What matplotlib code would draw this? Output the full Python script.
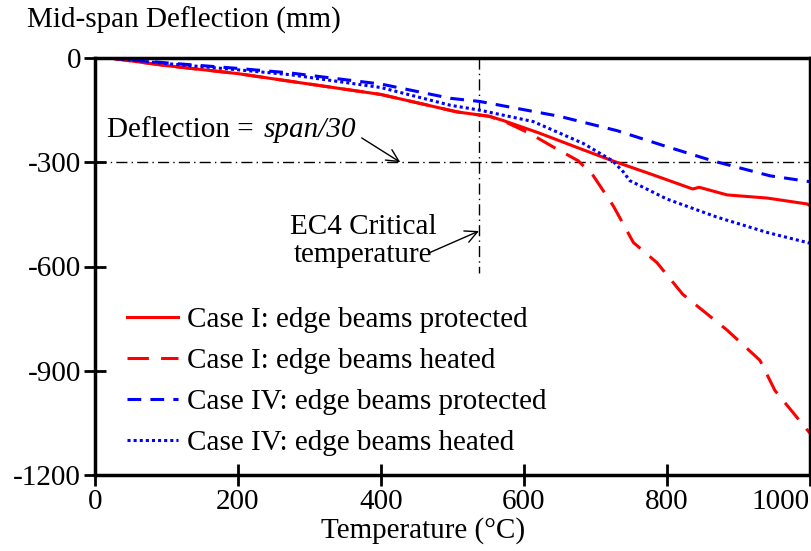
import matplotlib
matplotlib.use('Agg')
import matplotlib.pyplot as plt

plt.rcParams['font.family'] = ['Liberation Serif', 'DejaVu Serif']
plt.rcParams['axes.unicode_minus'] = False

# Case I, edge beams protected
t_c1p = [20, 100, 200, 273, 400, 506, 552, 571, 620, 680, 724, 776, 836, 845, 884, 940, 996, 1000]
d_c1p = [0, -22, -45, -67, -105, -155, -168, -180, -215, -262, -296, -333, -377, -372, -394, -403, -420, -425]

# Case I, edge beams heated
t_c1h = [20, 100, 200, 273, 400, 506, 552, 575, 608, 640, 676, 697, 725, 753, 786, 822, 884, 930, 951, 1000]
d_c1h = [0, -22, -45, -67, -105, -155, -168, -185, -217, -255, -296, -339, -426, -531, -589, -680, -783, -870, -957, -1080]

# Case IV, edge beams protected
t_c4p = [20, 100, 200, 273, 400, 497, 538, 650, 730, 795, 864, 944, 1000]
d_c4p = [0, -14, -30, -43, -75, -116, -125, -168, -209, -252, -296, -339, -356]

# Case IV, edge beams heated
t_c4h = [20, 100, 200, 273, 400, 497, 538, 613, 683, 724, 739, 748, 800, 870, 940, 1000]
d_c4h = [0, -16, -34, -48, -85, -136, -150, -183, -246, -296, -328, -353, -406, -458, -502, -533]

ec4_temp = 537
span30 = -300

fig = plt.figure(figsize=(8.11, 5.51), dpi=100)
ax = fig.add_axes([95 / 811, 76 / 551, 715 / 811, 417 / 551])

fs = 21
ax.axhline(span30, color='black', lw=1, ls=(0, (8, 3, 1, 3)))
ax.plot([ec4_temp, ec4_temp], [0, -620], color='black', lw=1, ls=(0, (8, 3, 1, 3)))

ax.plot(t_c1p, d_c1p, color='red', lw=2.2, label='Case I: edge beams protected')
ax.plot(t_c1h, d_c1h, color='red', lw=2.2, ls=(0, (7, 4)), label='Case I: edge beams heated')
ax.plot(t_c4p, d_c4p, color='blue', lw=2.2, ls=(0, (4.5, 3)), label='Case IV: edge beams protected')
ax.plot(t_c4h, d_c4h, color='blue', lw=2.2, ls=(0, (1, 1)), label='Case IV: edge beams heated')

ax.set_xlim(0, 1000)
ax.set_ylim(-1200, 0)
ax.set_xticks([0, 200, 400, 600, 800, 1000])
ax.set_yticks([0, -300, -600, -900, -1200])
ax.tick_params(direction='inout', length=16, width=2, labelsize=fs, pad=2)
ax.get_xticklabels()[-1].set_horizontalalignment('right')
for s in ax.spines.values():
    s.set_linewidth(2.5)

ax.set_xlabel('Temperature (°C)', fontsize=fs, labelpad=0)
ax.xaxis.set_label_coords((423 - 95) / 715, -0.1)
fig.text(27 / 811, 1 - 20 / 551, 'Mid-span Deflection (mm)', fontsize=fs, va='center', ha='left')

# span/30 note
ax.text(17, -207, 'Deflection = ', fontsize=fs, va='center', ha='left')
ax.text(365, -207, 'span/30', fontsize=fs, va='center', ha='right', style='italic')
ax.annotate('', xy=(427, span30), xytext=(373, -230),
            arrowprops=dict(arrowstyle='->', color='black', lw=1, mutation_scale=22,
                            shrinkA=0, shrinkB=0))

# EC4 note
ax.text(375, -527, 'EC4 Critical\ntemperature', fontsize=fs, va='center', ha='center', linespacing=1.1)
ax.annotate('', xy=(ec4_temp, -498), xytext=(467, -561),
            arrowprops=dict(arrowstyle='->', color='black', lw=1, mutation_scale=22,
                            shrinkA=0, shrinkB=0))

ax.legend(loc='upper left', bbox_to_anchor=(127 / 811, 1 - 307 / 551), bbox_transform=fig.transFigure,
          frameon=False, fontsize=fs, handlelength=1.75, handletextpad=0.3, labelspacing=0.5,
          borderpad=0, borderaxespad=0)

fig.savefig('out.png', dpi=100)
